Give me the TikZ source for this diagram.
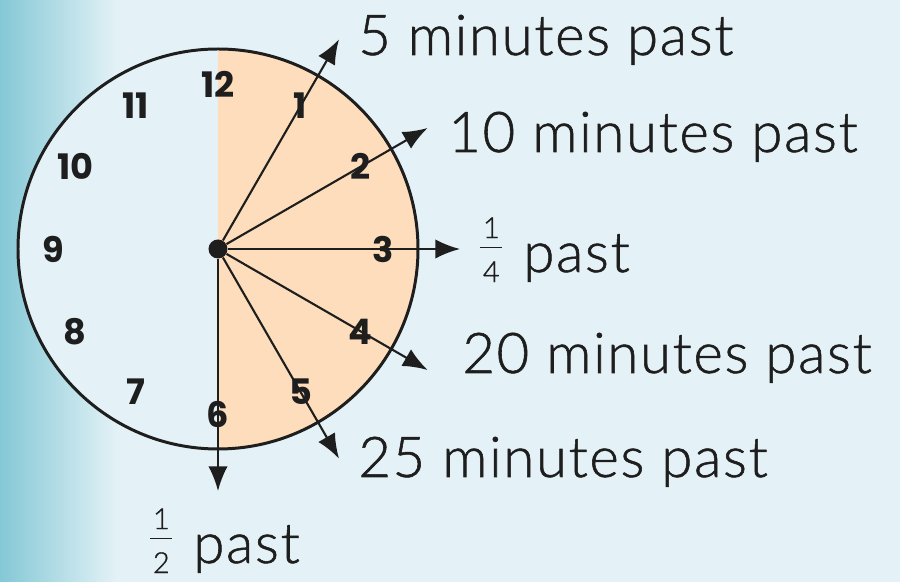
\documentclass[tikz,border=0pt]{standalone}
\usepackage{fontspec}
\usetikzlibrary{arrows.meta}
\newfontfamily\labelfont{Lato Light}[LetterSpace=3,FakeBold=1]
\newfontfamily\digitfont{Poppins}
\newcommand{\clockfrac}[2]{{\fontsize{16.5}{16.5}\selectfont
  \rlap{\raisebox{19.3pt}{\makebox[12.5pt]{#1}}}%
  \rlap{\raisebox{-5.7pt}{\makebox[12.5pt]{#2}}}%
  \rule[13.6pt]{12.5pt}{0.6pt}}}
\definecolor{SkyTeal}{RGB}{132,200,214}
\definecolor{SkyLight}{RGB}{228,242,247}
\definecolor{PeachFill}{RGB}{253,221,187}
\definecolor{ClockInk}{RGB}{30,30,30}

\begin{document}
\begin{tikzpicture}[every node/.style={inner sep=0pt},
    hand/.style={-{Latex[length=14pt,width=11pt]}, line width=1.2pt, ClockInk},
    tag/.style={anchor=base west, text=ClockInk, font=\labelfont\fontsize{32}{38}\selectfont},
    hour/.style={text=ClockInk, font=\digitfont\bfseries\fontsize{20}{24}\selectfont}]
  \useasboundingbox (-4.36,-6.66) rectangle (13.64,4.98);
  \fill[SkyLight] (-4.36,-6.66) rectangle (13.64,4.98);
  \shade[left color=SkyTeal, right color=SkyLight] (-4.36,-6.66) rectangle (-2.0,4.98);

  \fill[SkyLight] (0,0) circle (4);
  \fill[PeachFill] (0,4) arc (90:-90:4) -- cycle;
  \draw[line width=1.7pt, ClockInk] (0,0) circle (4);

  \foreach \h in {1,...,12}
    \node[hour] (n\h) at ({90-30*\h}:3.3) {\h};

  \node[circle, fill=ClockInk, minimum size=0.38cm] (c) at (0,0) {};
  \foreach \h in {1,...,6}
    \coordinate (t\h) at ({90-30*\h}:4.84);
  \foreach \h in {1,...,6}
    \draw[hand] (c) -- (t\h);

  \node[tag] (l5) at (2.80,3.88) {5 minutes past};
  \node[tag] (l10) at (4.60,1.94) {10 minutes past};
  \node[tag] (lq) at (5.24,-0.46) {\clockfrac{1}{4}\hspace{12pt}past};
  \node[tag] (l20) at (4.88,-2.48) {20 minutes past};
  \node[tag] (l25) at (2.80,-4.56) {25 minutes past};
  \node[tag] (lh) at (-1.36,-6.28) {\clockfrac{1}{2}\hspace{12pt}past};
\end{tikzpicture}
\end{document}
